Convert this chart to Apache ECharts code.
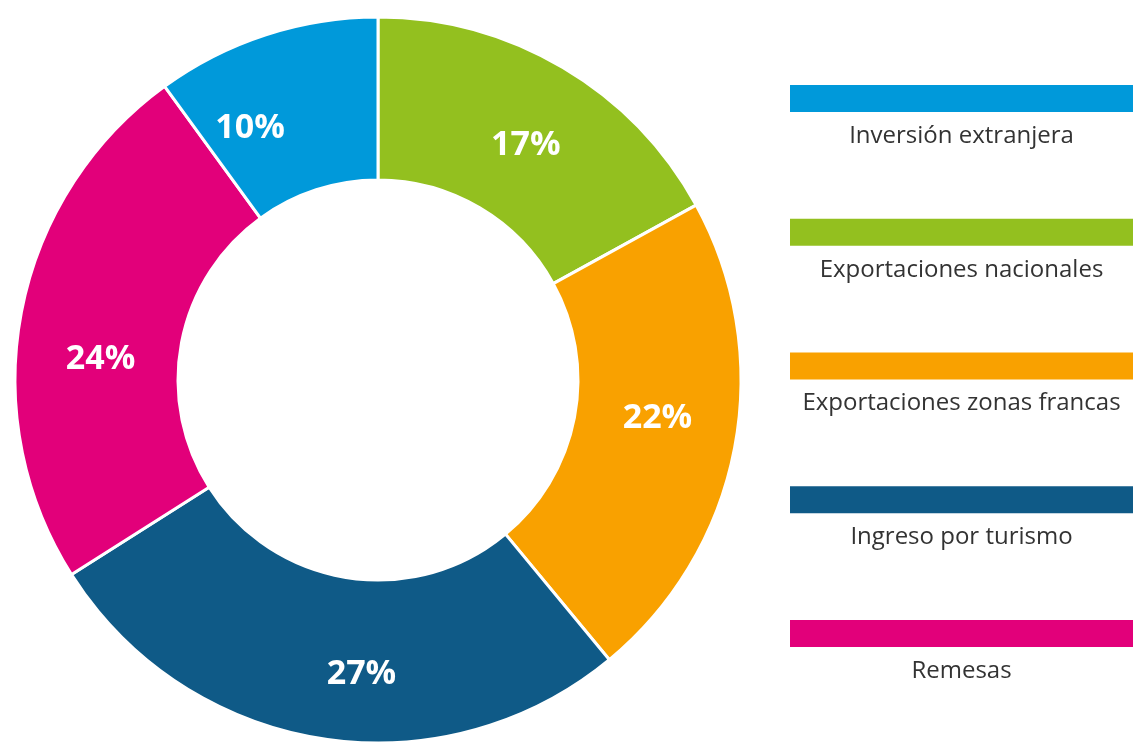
<!DOCTYPE html>
<html>
<head>
<meta charset="utf-8">
<script src="https://cdn.jsdelivr.net/npm/echarts@6/dist/echarts.min.js"></script>
<style>
html,body{margin:0;padding:0;background:#fff;}
#c{width:1133px;height:744px;}
</style>
</head>
<body>
<div id="c"></div>
<script>
// Pie order (clockwise from top)
var sliceNames = ['Exportaciones nacionales','Exportaciones zonas francas','Ingreso por turismo','Remesas','Inversión extranjera'];
var sliceValues = [17, 22, 27, 24, 10];
var sliceColors = ['#93C01F','#F9A100','#0F5A87','#E2007A','#0099DA'];
var labelOffsets = [[3,10],[0,-15],[28,13],[2,33],[-40,19]];
// Legend order (top to bottom)
var legendNames = ['Inversión extranjera','Exportaciones nacionales','Exportaciones zonas francas','Ingreso por turismo','Remesas'];

var colorOf = {};
sliceNames.forEach(function(n,i){ colorOf[n] = sliceColors[i]; });

var chart = echarts.init(document.getElementById('c'));

var graphics = [];
legendNames.forEach(function(n,i){
  var top = 85 + i*133.75;
  graphics.push({type:'rect', left:790, top:top, shape:{width:343, height:27}, style:{fill:colorOf[n]}});
  graphics.push({type:'text', x:961.5, y:top+27+12, style:{text:n, fill:'#333333', font:'24px "Open Sans", sans-serif', textAlign:'center', textVerticalAlign:'top'}});
});

chart.setOption({
  backgroundColor:'#ffffff',
  animation:false,
  graphic: graphics,
  series:[{
    type:'pie',
    center:[378,380],
    radius:[200,363],
    startAngle:90,
    clockwise:true,
    avoidLabelOverlap:false,
    itemStyle:{borderColor:'#ffffff', borderWidth:3},
    label:{show:true, position:'inside', formatter:'{c}%', color:'#ffffff', fontWeight:'bold', fontSize:34, fontFamily:'"Open Sans", sans-serif'},
    labelLine:{show:false},
    emphasis:{disabled:true},
    data: sliceNames.map(function(n,i){
      return {name:n, value:sliceValues[i], itemStyle:{color:sliceColors[i]}, label:{offset:labelOffsets[i]}};
    })
  }]
});
</script>
</body>
</html>
